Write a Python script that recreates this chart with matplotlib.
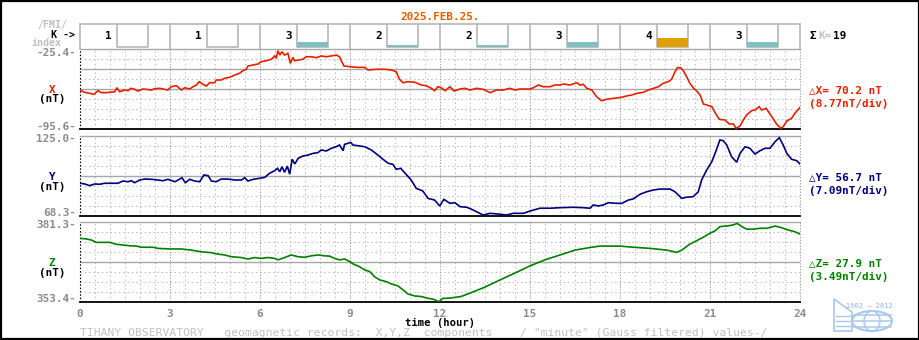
import matplotlib
matplotlib.use("Agg")
import matplotlib.pyplot as plt
from matplotlib.patches import Rectangle, Ellipse, Polygon

DATE = "2025.FEB.25."
K_VALUES = [1, 1, 3, 2, 2, 3, 4, 3]
# lower limit (nT) of each K class, used for the height of the K bar
K_LOWER_NT = [0, 5, 10, 20, 40, 70, 120, 200, 330, 500]

X_HOURS = [0.0, 0.15, 0.32, 0.46, 0.6, 0.71, 0.88, 1.16, 1.23, 1.32, 1.49, 1.6, 1.69, 1.82, 1.93,
           2.1, 2.38, 2.49, 2.66, 2.82, 2.93, 3.04, 3.21, 3.38, 3.49, 3.66, 3.77, 3.88, 3.97, 4.1,
           4.21, 4.32, 4.49, 4.54, 4.71, 4.82, 4.99, 5.16, 5.32, 5.43, 5.54, 5.6, 5.77, 5.93, 6.04,
           6.21, 6.38, 6.49, 6.54, 6.6, 6.66, 6.73, 6.82, 6.93, 7.01, 7.1, 7.15, 7.27, 7.43, 7.54,
           7.71, 7.88, 8.04, 8.21, 8.38, 8.54, 8.65, 8.71, 8.8, 8.99, 9.21, 9.49, 9.6, 9.88, 10.16,
           10.38, 10.54, 10.65, 10.77, 10.93, 11.16, 11.38, 11.54, 11.71, 11.82, 11.93, 12.04, 12.17,
           12.33, 12.47, 12.67, 12.83, 13.0, 13.22, 13.44, 13.67, 13.89, 14.11, 14.33, 14.5, 14.67,
           15.0, 15.11, 15.28, 15.44, 15.67, 15.83, 16.0, 16.11, 16.33, 16.56, 16.67, 16.78, 16.89,
           17.06, 17.22, 17.39, 17.56, 17.78, 18.06, 18.22, 18.39, 18.56, 18.78, 18.94, 19.11, 19.28,
           19.44, 19.61, 19.72, 19.81, 19.91, 20.02, 20.11, 20.22, 20.33, 20.44, 20.56, 20.67, 20.78,
           20.89, 21.06, 21.17, 21.31, 21.5, 21.64, 21.78, 21.87, 22.0, 22.11, 22.22, 22.39, 22.5,
           22.64, 22.72, 22.87, 23.0, 23.11, 23.22, 23.36, 23.44, 23.56, 23.72, 23.83, 24.0]
X_NT = [-61.4, -63.4, -64.3, -65.2, -62.0, -63.7, -63.7, -62.9, -59.4, -62.9, -61.4, -62.0, -59.9, -60.8, -62.3,
        -60.5, -61.4, -60.2, -59.9, -60.8, -61.4, -58.5, -57.6, -61.4, -59.4, -60.5, -58.5, -57.0, -54.1, -56.4,
        -57.9, -55.0, -55.0, -52.6, -52.6, -51.1, -50.2, -48.2, -46.7, -44.4, -43.2, -40.3, -39.4, -38.6, -36.5,
        -35.7, -34.4, -31.5, -33.6, -26.9, -30.7, -27.8, -30.7, -29.2, -38.0, -32.7, -35.7, -35.1, -34.4, -32.2,
        -32.2, -33.0, -31.5, -32.2, -31.5, -30.7, -32.2, -35.7, -40.3, -40.9, -41.5, -41.5, -43.8, -43.2, -43.2,
        -43.8, -45.3, -52.0, -55.0, -54.1, -54.6, -57.0, -57.6, -59.9, -62.0, -58.5, -59.4, -62.0,
        -58.5, -62.3, -60.5, -59.9, -61.4, -59.9, -60.8, -63.7, -61.4, -61.4, -59.9, -61.4, -60.5,
        -60.5, -59.4, -57.0, -58.5, -58.5, -57.0, -57.0, -56.1, -57.0, -55.0, -57.0, -56.4, -59.9,
        -61.4, -67.3, -70.8, -69.5, -68.7, -67.8, -66.6, -65.8, -64.3, -63.4, -61.4, -59.9, -58.5,
        -55.5, -54.1, -52.0, -46.7, -41.8, -41.8, -44.4, -49.7, -55.5, -59.4, -62.3, -65.8, -73.7,
        -74.5, -76.0, -81.3, -87.1, -87.7, -91.2, -91.2, -95.0, -93.0, -87.7, -83.3, -79.5, -78.9,
        -76.0, -78.9, -77.4, -82.4, -86.8, -91.2, -95.0, -93.6, -88.6, -86.2, -81.8, -76.6]

Y_HOURS = [0.0, 0.16, 0.32, 0.49, 0.66, 0.82, 1.04, 1.27, 1.43, 1.6, 1.71, 1.82, 1.99, 2.16, 2.38,
           2.6, 2.77, 2.93, 3.16, 3.27, 3.4, 3.51, 3.66, 3.82, 3.99, 4.13, 4.27, 4.38, 4.54, 4.71,
           4.93, 5.16, 5.38, 5.49, 5.6, 5.77, 5.99, 6.16, 6.32, 6.49, 6.58, 6.66, 6.73, 6.82, 6.91,
           6.99, 7.07, 7.16, 7.27, 7.43, 7.6, 7.77, 7.93, 8.04, 8.21, 8.38, 8.54, 8.65, 8.77, 8.82,
           8.93, 9.02, 9.1, 9.27, 9.49, 9.71, 9.93, 10.1, 10.27, 10.43, 10.54, 10.69, 10.82, 11.04,
           11.21, 11.43, 11.6, 11.82, 11.99, 12.13, 12.33, 12.5, 12.67, 12.89, 13.06, 13.22, 13.44,
           13.67, 13.94, 14.22, 14.44, 14.78, 15.0, 15.33, 15.67, 16.0, 16.44, 16.78, 17.0, 17.11,
           17.28, 17.44, 17.61, 17.89, 18.06, 18.28, 18.44, 18.67, 18.89, 19.11, 19.33, 19.67, 19.83,
           20.06, 20.22, 20.44, 20.61, 20.72, 20.89, 21.06, 21.17, 21.33, 21.44, 21.56, 21.72, 21.89,
           22.0, 22.17, 22.33, 22.5, 22.67, 22.83, 23.0, 23.17, 23.31, 23.44, 23.56, 23.72, 23.89, 24.0]
Y_NT = [91.5, 91.0, 89.8, 91.0, 90.8, 91.5, 91.5, 91.5, 93.1, 92.6, 93.3, 91.9, 93.8, 94.5, 94.3,
        93.8, 93.3, 94.3, 92.6, 93.8, 95.4, 91.9, 94.3, 93.1, 92.6, 97.4, 96.9, 93.1, 92.6, 94.5,
        94.5, 93.8, 93.8, 95.4, 93.1, 94.3, 95.0, 95.7, 98.6, 100.4, 102.1, 99.7, 103.2, 99.3, 103.7,
        97.9, 108.5, 105.2, 109.2, 110.8, 111.5, 112.7, 113.2, 115.1, 114.4, 116.3, 117.4, 118.6, 114.6, 119.1,
        119.8, 120.5, 118.6, 118.1, 117.4, 115.1, 111.5, 108.5, 105.7, 104.9, 101.4, 102.1, 99.0, 93.8,
        87.9, 86.0, 80.8, 79.6, 75.4, 80.1, 77.3, 77.7, 74.9, 74.5, 73.0, 71.3, 69.0,
        70.2, 69.7, 69.0, 70.2, 70.2, 71.8, 73.8, 73.8, 74.2, 74.5, 74.2, 73.8, 76.1,
        75.4, 76.1, 77.7, 77.3, 77.3, 79.6, 80.4, 83.7, 85.5, 86.7, 87.4, 87.4, 85.5,
        80.8, 81.6, 82.0, 85.5, 93.8, 100.9, 106.8, 112.7, 122.2, 121.7, 118.6, 110.3, 106.4,
        112.7, 117.4, 116.3, 112.2, 114.6, 116.3, 116.3, 121.0, 123.8, 118.6, 112.7, 108.5, 107.5, 105.2]

Z_HOURS = [0.0, 0.21, 0.38, 0.54, 0.99, 1.21, 1.43, 1.66, 1.88, 2.04, 2.43, 2.6, 2.99, 3.38, 3.71,
           4.04, 4.38, 4.6, 4.82, 5.04, 5.38, 5.6, 5.82, 6.04, 6.27, 6.49, 6.6, 6.82, 7.04, 7.27,
           7.49, 7.71, 7.93, 8.16, 8.32, 8.49, 8.66, 8.82, 8.99, 9.1, 9.32, 9.49, 9.66, 9.82, 9.99,
           10.21, 10.38, 10.6, 10.77, 10.93, 11.16, 11.38, 11.6, 11.77, 11.96, 12.1, 12.27, 12.7, 13.0,
           13.5, 14.0, 14.5, 15.0, 15.5, 16.0, 16.5, 17.0, 17.33, 18.0, 18.44, 19.0, 19.56, 19.89,
           20.06, 20.33, 20.56, 20.78, 21.0, 21.17, 21.33, 21.56, 21.78, 21.91, 22.06, 22.22, 22.44,
           22.67, 22.89, 23.17, 23.39, 23.61, 23.83, 24.0]
Z_NT = [375.6, 375.4, 375.0, 374.2, 374.2, 373.5, 373.3, 373.0, 372.9, 372.5, 372.5, 372.1, 371.9, 371.9, 371.5,
        370.9, 370.6, 370.1, 369.8, 369.2, 368.9, 368.4, 368.9, 368.6, 368.9, 368.6, 368.1, 368.9, 369.8, 369.2,
        369.0, 369.5, 369.8, 369.5, 369.4, 368.6, 368.1, 368.4, 367.5, 366.7, 365.7, 364.6, 364.0, 362.2, 361.1,
        360.5, 359.7, 359.0, 357.6, 356.2, 355.5, 355.3, 354.7, 354.4, 353.5, 354.7, 354.7, 355.3, 356.5,
        358.6, 361.1, 363.5, 366.0, 368.1, 369.8, 371.5, 372.4, 372.9, 372.9, 372.5, 372.1, 371.5, 370.7,
        371.5, 373.6, 374.8, 376.0, 377.4, 378.2, 379.7, 379.9, 380.3, 380.8, 379.7, 378.8, 378.8,
        379.1, 379.1, 379.9, 379.3, 378.5, 377.9, 377.1]

X_RANGE = (-95.6, -25.4)
Y_RANGE = (68.3, 125.0)
Z_RANGE = (353.4, 381.3)

W, H = 920, 340
RED, NAVY, GREEN = "#e82000", "#000080", "#008000"
GRAY, LIGHT, GRID = "#8c8c8c", "#c0c0c0", "#b4b4b4"
MONO = ["DejaVu Sans Mono", "DejaVu Sans"]
FS = 7.9

fig = plt.figure(figsize=(W / 100, H / 100), dpi=100)
fig.patch.set_facecolor("white")


def px_axes(x0, y0, x1, y1):
    ax = fig.add_axes([x0 / W, 1 - y1 / H, (x1 - x0) / W, (y1 - y0) / H])
    ax.axis("off")
    return ax


def panel(top, bottom, hours, values, rng, color, solid_from_top):
    ax = px_axes(80, top, 800, bottom)
    lo, hi = rng
    ax.set_xlim(0, 24)
    ax.set_ylim(lo, hi)
    step = (hi - lo) / 8
    for i in range(1, 8):
        y = hi - i * step
        if i in solid_from_top:
            ax.axhline(y, color="#a8a8a8", lw=1.0)
        else:
            ax.axhline(y, color=GRID, lw=0.7, ls=(0, (1.4, 3.0)))
    for j in range(1, 48):
        h = j * 0.5
        if j % 6 == 0:
            ax.axvline(h, color="#a0a0a0", lw=0.7, ls=(0, (1.4, 1.6)))
        else:
            ax.axvline(h, color=GRID, lw=0.7, ls=(0, (1.4, 3.0)))
    ax.axvline(24, color="#a0a0a0", lw=0.7, ls=(0, (1.4, 1.6)), clip_on=False)
    ax.axvline(0, color="black", lw=0.8, ls=(0, (1.4, 1.6)), clip_on=False)
    ax.axhline(hi, color="#a8a8a8", lw=1.0, clip_on=False)
    ax.axhline(lo, color="black", lw=1.3, clip_on=False)
    ax.plot(hours, values, color=color, lw=1.2, solid_joinstyle="miter")
    return ax


# K-index strip
kax = px_axes(80, 24, 800, 49)
kax.set_xlim(0, 24)
kax.set_ylim(-8.7, 100)
kax.axhline(100, color="#b0b0b0", lw=1.1, clip_on=False)
for i, k in enumerate(K_VALUES):
    c = i * 3
    kax.plot([c, c], [-8.7, 100], color="#b0b0b0", lw=1.1, clip_on=False)
    kax.plot([c + 1.233, c + 1.233, c + 2.267, c + 2.267], [100, 0, 0, 100], color="#b0b0b0", lw=1.1)
    if k >= 2:  # a K=1 bar is below one pixel
        kax.bar(c + 1.75, K_LOWER_NT[k], width=1.033, bottom=0,
                color="#e0a000" if k >= 4 else "#80c0c0", zorder=3)
    kax.text(c + 0.95, 48, str(k), ha="center", va="center", family=MONO,
             weight="bold", fontsize=FS)
kax.plot([24, 24], [-8.7, 100], color="#b0b0b0", lw=1.1, clip_on=False)

panel(49, 129, X_HOURS, X_NT, X_RANGE, RED, (2, 4))
panel(136, 216, Y_HOURS, Y_NT, Y_RANGE, NAVY, (4,))
panel(222, 302, Z_HOURS, Z_NT, Z_RANGE, GREEN, (4,))

# overlay for labels, in pixel coordinates
ov = fig.add_axes([0, 0, 1, 1], zorder=-1)
ov.set_xlim(0, W)
ov.set_ylim(H, 0)
ov.axis("off")


def t(x, y, s, color="black", ha="left", weight="bold", size=FS):
    ov.text(x, y, s, color=color, ha=ha, va="center", family=MONO, weight=weight, fontsize=size)


t(440, 17, DATE, color="#e06000", ha="center")
t(67, 25, "/FMI/", color=LIGHT, ha="right", size=7.2)
t(75, 35, "K ->", ha="right", size=7.2)
t(31, 43.5, "index", color=LIGHT, size=7.2)
t(810, 36, "\u03a3")
t(818, 36, "K=", color=LIGHT)
t(833, 36, "19")

for top, bottom, rng, name, color, delta in [
        (49, 129, X_RANGE, "X", RED, "\u25b3X= 70.2 nT"),
        (136, 216, Y_RANGE, "Y", NAVY, "\u25b3Y= 56.7 nT"),
        (222, 302, Z_RANGE, "Z", GREEN, "\u25b3Z= 27.9 nT")]:
    lo, hi = rng
    t(76, top + 3.5, "%.1f-" % hi, color=GRAY, ha="right")
    t(76, bottom - 2.5, "%.1f-" % lo, color=GRAY, ha="right")
    mid = (top + bottom) / 2
    t(52, mid + 1, name, color=color, ha="center")
    t(52, mid + 10.5, "(nT)", ha="center")
    t(809, mid + 1, delta, color=color)
    t(809, mid + 15, "(%.2fnT/div)" % ((hi - lo) / 8), color=color)

for h in range(0, 25, 3):
    t(80 + h * 30, 314, str(h), color=GRAY, ha="center")
t(440, 323, "time (hour)", ha="center", size=7.6)
t(80, 333, 'TIHANY OBSERVATORY   geomagnetic records:  X,Y,Z  components    / "minute" (Gauss filtered) values-/',
  color=LIGHT, weight="normal", size=8.2)

# observatory logo
BLUE = "#a8c8ec"
ov.text(869, 306, "1902 \u2014 2012", color=BLUE, ha="center", va="center", family=MONO,
        weight="bold", fontsize=5)
ov.add_patch(Ellipse((872, 321), 40, 20, fill=False, ec=BLUE, lw=1.5))
ov.add_patch(Ellipse((872, 321), 16, 20, fill=False, ec=BLUE, lw=1.1))
for yy in (315, 321, 327):
    ov.plot([853, 891], [yy, yy], color=BLUE, lw=1.1)
ov.add_patch(Polygon([(834, 299), (852, 312), (852, 331), (834, 331)], closed=True,
                     fill=False, ec=BLUE, lw=1.2))
for yy in (316, 321, 326):
    ov.plot([836, 850], [yy, yy], color=BLUE, lw=1.0)

ov.add_patch(Rectangle((1, 1), W - 2, H - 2, fill=False, ec="black", lw=1.6, clip_on=False))

fig.savefig("out.png", dpi=100)
